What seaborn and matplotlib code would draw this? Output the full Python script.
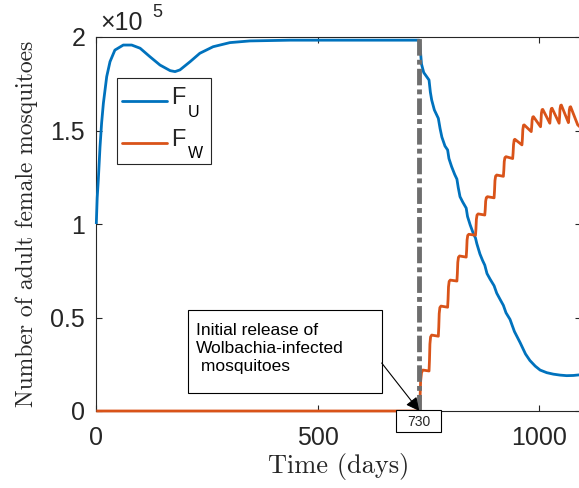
import numpy as np
import pandas as pd
import matplotlib
matplotlib.use("Agg")
import matplotlib.pyplot as plt
import seaborn as sns
from matplotlib.lines import Line2D
from matplotlib.patches import Rectangle
from matplotlib.ticker import FuncFormatter

# ---------------- data ----------------
fu_t = [0, 2, 4.5, 8.4, 12, 16, 23.5, 31, 42, 61, 80, 99, 121, 144, 167, 178, 189,
        212, 234, 264, 302, 347, 438, 730,
        732, 735, 740, 746, 752, 755, 758, 764, 770, 773, 777, 781, 788, 794,
        797, 803, 810, 815, 818, 822, 828, 836, 839, 845, 852, 857, 860, 867,
        873, 878, 883, 890, 899, 905, 913, 920, 926, 935, 945, 958, 970, 980,
        992, 1003, 1018, 1033, 1048, 1063, 1078, 1095]
fu_v = [100000, 114000, 123500, 141300, 154000, 164600, 178800, 186800, 193000,
        195700, 195700, 194000, 189500, 185000, 182000, 181500, 182400,
        186800, 191300, 194800, 197000, 197900, 198300, 198300,
        194000, 185500, 181000, 179000, 177000, 170500, 166300, 161000, 158000,
        156500, 151000, 146500, 141700, 139600, 135000, 130700, 126500, 124000,
        119500, 114600, 111800, 108500, 104000, 99500, 95000, 92500, 89500,
        84000, 80500, 78000, 73500, 70500, 67000, 63000, 59500, 56500, 52500,
        49000, 42500, 36500, 30500, 27000, 24000, 21900, 20500, 19700, 19200,
        18900, 19000, 19400]

fw_t = [0, 730, 731, 732, 733, 735, 738, 752,
        753, 754, 755.5, 758, 773,
        774, 775, 776.5, 779, 794,
        795, 796, 797.5, 800, 815,
        816, 817, 818.5, 821, 836,
        837, 838, 839.5, 842, 857,
        858, 859, 860.5, 863, 878,
        879, 880, 881.5, 884, 899,
        900, 901, 902.5, 905, 920,
        921, 922, 923.5, 926, 941,
        942, 943, 944.5, 946, 962,
        963, 964, 965.5, 967, 983,
        984, 985, 986.5, 988, 1004,
        1005, 1006, 1007.5, 1009, 1025,
        1026, 1027, 1028.5, 1030, 1046,
        1047, 1048, 1049.5, 1051, 1067,
        1068, 1069, 1070.5, 1072, 1088, 1095]
fw_v = [0, 0, 2000, 9000, 16000, 20500, 21900, 21400,
        27200, 35800, 39600, 40600, 40000,
        44800, 52100, 55300, 56100, 55500,
        59800, 66400, 69300, 70000, 69500,
        73500, 79500, 82200, 82900, 82300,
        86000, 91500, 93900, 94500, 94000,
        97400, 102500, 104800, 105400, 104800,
        107700, 112200, 114100, 114600, 114000,
        117700, 123200, 125600, 126200, 125500,
        128700, 133400, 135500, 136000, 135000,
        138000, 142500, 145000, 145300, 142300,
        145500, 150500, 152800, 153000, 149400,
        152000, 155600, 157200, 157400, 152000,
        155000, 159300, 161100, 161300, 153900,
        156500, 160200, 161700, 161900, 153900,
        157000, 161500, 163400, 163600, 154200,
        157000, 160900, 162500, 162700, 153000, 151500]

series_names = ["F_U", "F_W"]
legend_main = ["F", "F"]
legend_sub = ["U", "W"]
x_ticks = [0, 500, 1000]
y_ticks = [0, 50000, 100000, 150000, 200000]
release_day = 730
annot_text = "Initial release of\nWolbachia-infected\n mosquitoes"
x_label = "Time (days)"
y_label = "Number of adult female mosquitoes"

# ---------------- style ----------------
sns.set_style("ticks")
plt.rcParams["font.family"] = ["Liberation Sans", "DejaVu Sans"]

blue = "#0072BD"
orange = "#D95319"
axcol = "#262626"

df = pd.concat([
    pd.DataFrame({"t": fu_t, "v": fu_v, "s": series_names[0]}),
    pd.DataFrame({"t": fw_t, "v": fw_v, "s": series_names[1]}),
])

W, H = 579, 488
fig = plt.figure(figsize=(W / 100, H / 100), dpi=100)
x0, x1, ytop, ybot = 96.3, 580.8, 37.0, 411.0
ax = fig.add_axes([x0 / W, (H - ybot) / H, (x1 - x0) / W, (ybot - ytop) / H])

def ax_frac(px, py):
    return (px - x0) / (x1 - x0), (ybot - py) / (ybot - ytop)

def px2data(px, py):
    fx, fy = ax_frac(px, py)
    return fx * 1095, fy * 200000

sns.lineplot(data=df, x="t", y="v", hue="s", palette={series_names[0]: blue, series_names[1]: orange},
             estimator=None, linewidth=2.0, legend=False, ax=ax, zorder=3)
for ln in ax.lines:
    ln.set_clip_on(False)
    ln.set_solid_capstyle("butt")

ax.axvline(release_day, color="#6e6e6e", lw=3.5, linestyle=(0, (3.4, 0.85, 1.0, 0.85)), zorder=4)

ax.set_xlim(0, 1095)
ax.set_ylim(0, 200000)
ax.set_xticks(x_ticks)
ax.set_yticks(y_ticks)
ax.yaxis.set_major_formatter(FuncFormatter(lambda v, p: f"{v/1e5:g}"))
ax.tick_params(direction="in", length=4, width=0.8, color=axcol, labelsize=18,
               labelcolor=axcol, top=True, right=True)
ax.tick_params(axis="y", pad=8)
ax.tick_params(axis="x", pad=11)
for sp in ax.spines.values():
    sp.set_visible(True)
    sp.set_color(axcol)
    sp.set_linewidth(0.8)

ax.set_xlabel(x_label, family="cmr10", fontsize=19, color=axcol, labelpad=2)
ax.set_ylabel(y_label, family="cmr10", fontsize=17, color=axcol, labelpad=9)

# x10^5 exponent
ax.text(0.0076, 1.019, "×10", transform=ax.transAxes, fontsize=18, color=axcol,
        va="baseline", ha="left")
ax.text(0.115, 1.0535, "5", transform=ax.transAxes, fontsize=13, color=axcol,
        va="baseline", ha="left")

# legend: frame drawn as a rectangle, entries via ax.legend, subscripts as texts
lx0, ly0 = ax_frac(117.3, 164.0)
lx1, ly1 = ax_frac(210.7, 78.3)
ax.add_patch(Rectangle((lx0, ly0), lx1 - lx0, ly1 - ly0, transform=ax.transAxes,
                       facecolor="white", edgecolor=axcol, lw=0.8, zorder=6))
handles = [Line2D([], [], color=blue, lw=2.0), Line2D([], [], color=orange, lw=2.0)]
ancx, ancy = ax_frac(122.0, 87.0)
leg = ax.legend(handles, legend_main, loc="upper left",
                bbox_to_anchor=(ancx, ancy), borderaxespad=0, borderpad=0,
                fontsize=17, handlelength=1.9, handletextpad=0.2,
                labelspacing=0.86, frameon=False)
leg.set_zorder(7)
for hl in leg.get_lines():
    hl.set_ydata(np.asarray(hl.get_ydata()) - 3.9)
for (sx, sy), s in zip([(187.5, 117.3), (187.5, 158.3)], legend_sub):
    fx, fy = ax_frac(sx, sy)
    ax.text(fx, fy, s, transform=ax.transAxes, fontsize=11.5, color="black",
            va="baseline", ha="left", zorder=8)

# annotation box and arrow
bx0, by0 = px2data(188, 393)
bx1, by1 = px2data(381.7, 310)
ax.add_patch(Rectangle((bx0, by0), bx1 - bx0, by1 - by0, fill=True, facecolor="white",
                       edgecolor="black", lw=0.8, zorder=5))
tx, ty = px2data(196.0, 348.5)
ax.text(tx, ty, annot_text, fontsize=12.5, va="center", ha="left", linespacing=1.25, zorder=6,
        color="black")
ax.annotate("", xy=(release_day, 0), xytext=(bx1, px2data(0, 363)[1]),
            arrowprops=dict(arrowstyle="-|>", lw=0.8, color="black", mutation_scale=20,
                            shrinkA=0, shrinkB=0), zorder=6)

# 730 box below axis
rx0, ry0 = px2data(396, 432)
rx1, ry1 = px2data(441, 410)
ax.add_patch(Rectangle((rx0, ry0), rx1 - rx0, ry1 - ry0, fill=True, facecolor="white",
                       edgecolor="black", lw=0.8, zorder=5, clip_on=False))
cx, cy = px2data(418.5, 421.5)
ax.text(cx, cy, str(release_day), fontsize=10, ha="center", va="center", zorder=6,
        clip_on=False)

fig.savefig("out.png", dpi=100)
